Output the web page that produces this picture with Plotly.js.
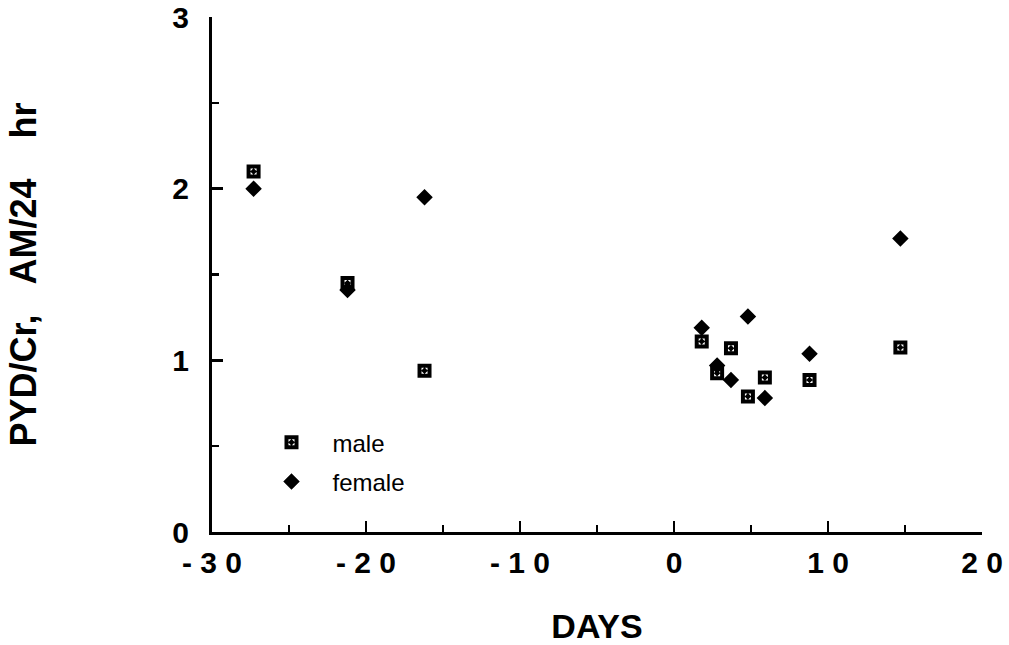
<!DOCTYPE html>
<html>
<head>
<meta charset="utf-8">
<script src="https://cdn.plot.ly/plotly-3.0.1.min.js"></script>
<style>
html,body{margin:0;padding:0;background:#fff;}
#chart{width:1009px;height:645px;}
</style>
</head>
<body>
<div id="chart"></div>
<script>
// Data
var days = [-27.3, -21.2, -16.2, 1.8, 2.8, 3.7, 4.8, 5.9, 8.8, 14.7];
var maleValues = [2.10, 1.45, 0.94, 1.11, 0.925, 1.07, 0.79, 0.90, 0.886, 1.075];
var femaleValues = [2.00, 1.41, 1.95, 1.19, 0.97, 0.886, 1.255, 0.78, 1.038, 1.71];
var xTickVals = [-30, -20, -10, 0, 10, 20];
var xTickText = ['- 3 0', '- 2 0', '- 1 0', '0', '1 0', '2 0'];
var yTickVals = [0, 1, 2, 3];
var yTickText = ['0', '1', '2', '3'];
var seriesNames = ['male', 'female'];
var xTitle = 'DAYS';
var yTitle = 'PYD/Cr,\u00a0\u00a0\u00a0AM/24\u00a0\u00a0\u00a0\u00a0hr\u00a0\u00a0';

var FONT = 'Liberation Sans, Arial, Helvetica, sans-serif';

var traces = [
  {
    x: days, y: maleValues, name: seriesNames[0], type: 'scatter', mode: 'markers',
    legendgroup: 'm',
    marker: {symbol: 'square-open-dot', size: 10, color: '#000', line: {color: '#000', width: 4}}
  },
  {
    x: days, y: femaleValues, name: seriesNames[1], type: 'scatter', mode: 'markers',
    legendgroup: 'f',
    marker: {symbol: 'diamond', size: 10.5, color: '#000', line: {color: '#000', width: 2}}
  }
];

var layout = {
  width: 1009, height: 645,
  margin: {l: 212, r: 27, t: 17, b: 113},
  paper_bgcolor: '#fff', plot_bgcolor: '#fff',
  showlegend: true,
  legend: {
    x: 0.05, y: 0.217, xanchor: 'left', yanchor: 'top',
    font: {family: FONT, size: 24, color: '#000'},
    itemwidth: 72, tracegroupgap: 5, bgcolor: 'rgba(0,0,0,0)'
  },
  xaxis: {
    range: [-30, 20], autorange: false,
    showgrid: false, zeroline: false,
    showline: true, linecolor: '#000', linewidth: 3,
    ticks: 'inside', ticklen: 11, tickwidth: 2.5, tickcolor: '#000',
    tickvals: xTickVals, ticktext: xTickText,
    tickfont: {family: FONT, size: 30, color: '#000', weight: 'bold'},
    ticklabelstandoff: 2,
    minor: {dtick: 5, tick0: 0, ticks: 'inside', ticklen: 7, tickwidth: 2.5, tickcolor: '#000', showgrid: false},
    title: {text: xTitle, font: {family: FONT, size: 34, color: '#000', weight: 'bold'}, standoff: 38},
    automargin: false
  },
  yaxis: {
    range: [0, 3], autorange: false,
    showgrid: false, zeroline: false,
    showline: true, linecolor: '#000', linewidth: 3,
    ticks: 'inside', ticklen: 11, tickwidth: 2.5, tickcolor: '#000',
    tickvals: yTickVals, ticktext: yTickText,
    tickfont: {family: FONT, size: 30, color: '#000', weight: 'bold'},
    ticklabelstandoff: 14,
    minor: {dtick: 0.5, tick0: 0, ticks: 'inside', ticklen: 7, tickwidth: 2.5, tickcolor: '#000', showgrid: false},
    title: {text: yTitle, font: {family: FONT, size: 36, color: '#000', weight: 'bold'}, standoff: 125},
    automargin: false
  }
};

Plotly.newPlot('chart', traces, layout, {displayModeBar: false, staticPlot: true});
</script>
</body>
</html>
